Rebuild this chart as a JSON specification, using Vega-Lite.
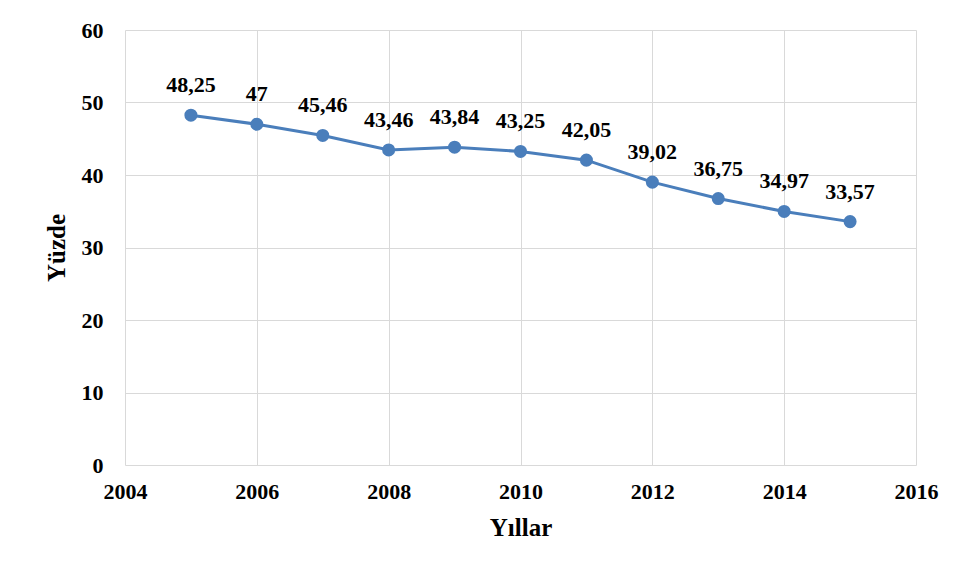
{
  "$schema": "https://vega.github.io/schema/vega-lite/v6.json",
  "width": 791,
  "height": 435,
  "autosize": {"type": "none"},
  "padding": {"left": 125, "top": 30, "right": 45, "bottom": 115},
  "background": "white",
  "config": {
    "view": {"stroke": null},
    "font": "Liberation Serif",
    "locale": {"number": {"decimal": ",", "thousands": ".", "grouping": [3], "currency": ["", " TL"]}}
  },
  "data": {
    "values": [
      {"yil": 2005, "deger": 48.25},
      {"yil": 2006, "deger": 47},
      {"yil": 2007, "deger": 45.46},
      {"yil": 2008, "deger": 43.46},
      {"yil": 2009, "deger": 43.84},
      {"yil": 2010, "deger": 43.25},
      {"yil": 2011, "deger": 42.05},
      {"yil": 2012, "deger": 39.02},
      {"yil": 2013, "deger": 36.75},
      {"yil": 2014, "deger": 34.97},
      {"yil": 2015, "deger": 33.57}
    ]
  },
  "encoding": {
    "x": {
      "field": "yil", "type": "quantitative",
      "scale": {"domain": [2004, 2016], "nice": false, "zero": false},
      "axis": {
        "title": "Yıllar", "values": [2004, 2006, 2008, 2010, 2012, 2014, 2016],
        "format": "d", "domain": false, "ticks": false,
        "gridColor": "#d9d9d9", "gridWidth": 1,
        "labelFont": "Liberation Serif", "labelFontWeight": "bold", "labelFontSize": 22, "labelColor": "#000",
        "labelPadding": 16, "labelFlush": false,
        "titleFont": "Liberation Serif", "titleFontWeight": "bold", "titleFontSize": 25, "titleColor": "#000",
        "titlePadding": 13
      }
    },
    "y": {
      "field": "deger", "type": "quantitative",
      "scale": {"domain": [0, 60], "nice": false},
      "axis": {
        "title": "Yüzde", "values": [0, 10, 20, 30, 40, 50, 60],
        "domain": false, "ticks": false,
        "gridColor": "#d9d9d9", "gridWidth": 1,
        "labelFont": "Liberation Serif", "labelFontWeight": "bold", "labelFontSize": 22, "labelColor": "#000",
        "labelPadding": 22,
        "titleFont": "Liberation Serif", "titleFontWeight": "bold", "titleFontSize": 25, "titleColor": "#000",
        "titlePadding": 12
      }
    }
  },
  "layer": [
    {"mark": {"type": "line", "color": "#4a7ebb", "strokeWidth": 3}},
    {"mark": {"type": "point", "filled": true, "color": "#4a7ebb", "opacity": 1, "size": 170}},
    {
      "mark": {"type": "text", "font": "Liberation Serif", "fontWeight": "bold", "fontSize": 22, "color": "#000", "dy": -30},
      "encoding": {"text": {"field": "deger", "type": "quantitative", "format": ".2~f"}}
    }
  ]
}
